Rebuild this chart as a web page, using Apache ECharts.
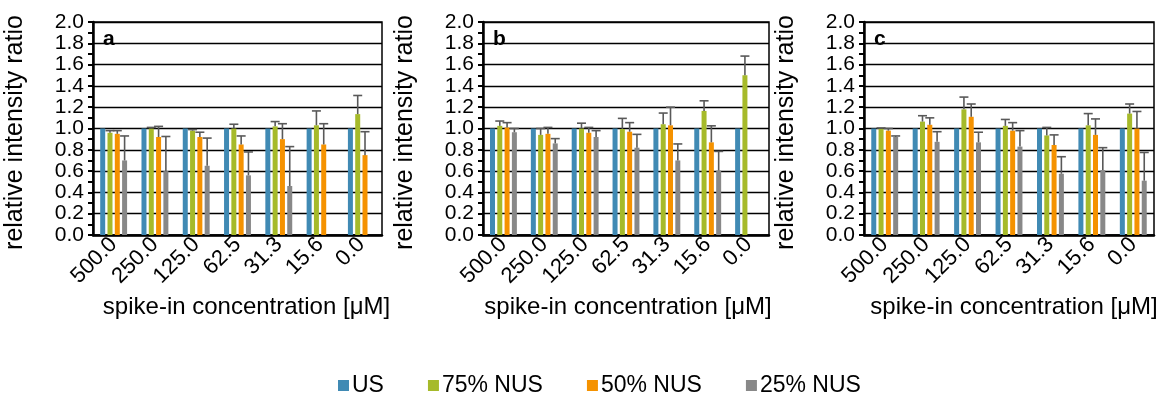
<!DOCTYPE html>
<html><head><meta charset="utf-8">
<script src="https://cdn.jsdelivr.net/npm/echarts@6/dist/echarts.min.js"></script>
<style>html,body{margin:0;padding:0;background:#fff}#c{width:1166px;height:396px}</style>
</head><body><div id="c"></div>
<script>
const categories = ['500.0','250.0','125.0','62.5','31.3','15.6','0.0'];
const seriesNames = ['US','75% NUS','50% NUS','25% NUS'];
const yTicks = [0,0.2,0.4,0.6,0.8,1.0,1.2,1.4,1.6,1.8,2.0];

// panel a
const a_US  = [1,1,1,1,1,1,1];
const a_75  = [0.96,1.00,0.98,1.00,1.02,1.03,1.135];
const a_50  = [0.95,0.92,0.92,0.85,0.90,0.85,0.75];
const a_25  = [0.70,0.60,0.65,0.56,0.46,null,null];
const a_75e = [0.02,0.01,0.01,0.04,0.045,0.135,0.175];
const a_50e = [0.03,0.10,0.045,0.08,0.145,0.195,0.22];
const a_25e = [0.23,0.325,0.26,0.22,0.37,null,null];
// panel b
const b_US  = [1,1,1,1,1,1,1];
const b_75  = [1.025,0.94,1.00,0.995,1.04,1.165,1.50];
const b_50  = [1.01,0.95,0.96,0.97,1.03,0.87,null];
const b_25  = [0.965,0.86,0.92,0.82,0.70,0.605,null];
const b_75e = [0.045,0.06,0.05,0.10,0.105,0.095,0.18];
const b_50e = [0.045,0.06,0.05,0.085,0.17,0.155,null];
const b_25e = [0.035,0.045,0.06,0.125,0.155,0.18,null];
// panel c
const c_US  = [1,1,1,1,1,1,1];
const c_75  = [1.00,1.065,1.18,1.025,0.935,1.03,1.14];
const c_50  = [0.98,1.035,1.11,0.98,0.845,0.94,1.00];
const c_25  = [0.92,0.875,0.87,0.83,0.575,0.61,0.51];
const c_75e = [0.005,0.055,0.115,0.06,0.075,0.11,0.09];
const c_50e = [0.02,0.065,0.12,0.075,0.095,0.15,0.16];
const c_25e = [0.01,0.095,0.095,0.15,0.16,0.21,0.265];

const panelLetters = ['a','b','c'];
const panels = [
  {vals:[a_US,a_75,a_50,a_25], errs:[null,a_75e,a_50e,a_25e]},
  {vals:[b_US,b_75,b_50,b_25], errs:[null,b_75e,b_50e,b_25e]},
  {vals:[c_US,c_75,c_50,c_25], errs:[null,c_75e,c_50e,c_25e]}
];
const colors = ['#408ab4','#a6ba2a','#f59200','#888888'];
const grids = [
  {left:93, width:289, top:22, height:213},
  {left:483, width:286, top:22, height:213},
  {left:864, width:290, top:22, height:213}
];
const xNameShift = [18, 4, 10];
const FONT = 'Liberation Sans, Arial, sans-serif';
const BAR_W = 5, BAR_GAP = 0.46;
const PITCH = BAR_W*(1+BAR_GAP);

const xAxes = [], yAxes = [], series = [], titles = [];
grids.forEach((g,p)=>{
  xAxes.push({type:'category', gridIndex:p, data:categories,
    axisLine:{lineStyle:{color:'#000', width:2.5}}, axisTick:{show:false},
    axisLabel:{rotate:45, color:'#000', fontSize:22, fontFamily:FONT, margin:6, interval:0, hideOverlap:false},
    name:'spike-in concentration [μM]', nameLocation:'middle', nameGap:60,
    nameTextStyle:{color:'#000', fontSize:24, fontFamily:FONT, padding:[0,0,0,xNameShift[p]]}});
  yAxes.push({type:'value', gridIndex:p, min:0, max:2, interval:0.2,
    axisLine:{show:true, lineStyle:{color:'#000', width:2.5}},
    axisTick:{show:true, length:5, lineStyle:{color:'#000', width:2}},
    minorTick:{show:true, splitNumber:2, length:5, lineStyle:{color:'#000', width:2}},
    splitLine:{show:true, lineStyle:{color:'#000', width:1.4}},
    axisLabel:{color:'#000', fontSize:21, fontFamily:FONT, margin:9, formatter:v=>v.toFixed(1)},
    name:'relative intensity ratio', nameLocation:'middle', nameGap:65,
    nameTextStyle:{color:'#000', fontSize:25, fontFamily:FONT, padding:[0,8,0,0]}});
  titles.push({text:panelLetters[p], left:g.left+5, top:g.top+2,
    textStyle:{fontSize:21, fontWeight:'bold', color:'#000', fontFamily:FONT}});
  const P = panels[p];
  P.vals.forEach((v,s)=>{
    series.push({type:'bar', name:seriesNames[s], xAxisIndex:p, yAxisIndex:p,
      data:v.map(x=>x==null?'-':x), barWidth:BAR_W, barGap:(BAR_GAP*100)+'%',
      itemStyle:{color:colors[s]}, z:2, animation:false});
  });
  P.errs.forEach((e,s)=>{
    if(!e) return;
    const data = [];
    e.forEach((er,i)=>{ if(er!=null && P.vals[s][i]!=null) data.push([i, P.vals[s][i], er]); });
    const slot = s;
    series.push({type:'custom', name:'err', xAxisIndex:p, yAxisIndex:p, z:5, animation:false,
      encode:{x:0, y:1},
      data:data,
      renderItem:(params, api)=>{
        const i = api.value(0), v = api.value(1), er = api.value(2);
        const base = api.coord([i, v]);
        const top = api.coord([i, v+er]);
        const x = base[0] + (slot-1.5)*PITCH;
        const st = {stroke:'#595959', lineWidth:1.6};
        return {type:'group', children:[
          {type:'line', shape:{x1:x, y1:base[1], x2:x, y2:top[1]}, style:st},
          {type:'line', shape:{x1:x-4.5, y1:top[1], x2:x+4.5, y2:top[1]}, style:st}
        ]};
      }});
  });
});

const chart = echarts.init(document.getElementById('c'), null, {renderer:'canvas'});
chart.setOption({
  animation:false,
  backgroundColor:'#fff',
  title:titles,
  grid:grids.map(g=>Object.assign({show:true, borderColor:'#000', borderWidth:1.5, backgroundColor:'transparent'}, g)),
  xAxis:xAxes, yAxis:yAxes,
  legend:{data:seriesNames, left:333, top:369, icon:'rect', itemWidth:11, itemHeight:11, itemGap:44,
    textStyle:{color:'#000', fontSize:23, fontFamily:FONT, padding:[0,0,0,-2]}},
  series:series
});
</script></body></html>
